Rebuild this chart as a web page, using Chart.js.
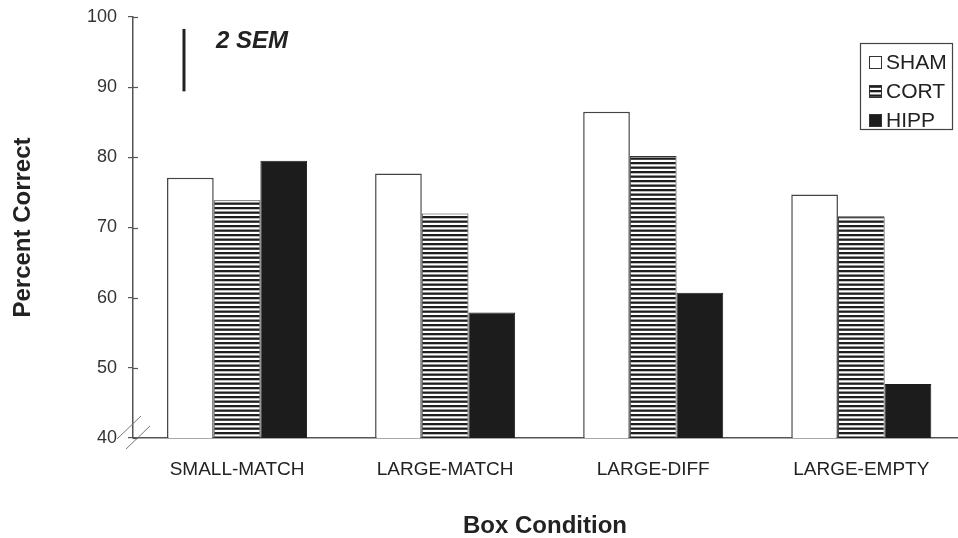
<!DOCTYPE html>
<html>
<head>
<meta charset="utf-8">
<script src="https://cdn.jsdelivr.net/npm/chart.js@4/dist/chart.umd.min.js"></script>
<style>
  body { margin: 0; background: #fff; }
  canvas { display: block; }
</style>
</head>
<body>
<canvas id="chart" width="958" height="538"></canvas>
<script>
const categories = ["SMALL-MATCH", "LARGE-MATCH", "LARGE-DIFF", "LARGE-EMPTY"];
const seriesNames = ["SHAM", "CORT", "HIPP"];
const shamValues = [77.1, 77.7, 86.5, 74.7];
const cortValues = [73.9, 72.0, 80.2, 71.6];
const hippValues = [79.5, 57.9, 60.7, 47.7];
const yTicks = [40, 50, 60, 70, 80, 90, 100];
// the "2 SEM" scale bar, in data units
const semBar = { x: -0.255, top: 98.3, bottom: 89.4 };

const FONT = "'Liberation Sans', Arial, sans-serif";

// horizontal stripe fill for CORT
function stripes() {
  const c = document.createElement("canvas");
  c.width = 8; c.height = 9;
  const g = c.getContext("2d");
  g.fillStyle = "#fff";
  g.fillRect(0, 0, 8, 9);
  g.fillStyle = "#1e1e1e";
  g.fillRect(0, 0, 8, 2.3);
  g.fillRect(0, 4.5, 8, 2.3);
  return document.getElementById("chart").getContext("2d").createPattern(c, "repeat");
}
const cortFill = stripes();

const toPoints = vals => vals.map((v, i) => ({ x: i, y: v }));

const extras = {
  id: "extras",
  afterDraw(chart) {
    const { ctx, chartArea } = chart;
    const xs = chart.scales.x, ys = chart.scales.y;
    const x0 = chartArea.left, y0 = chartArea.bottom;
    ctx.save();

    // inner half of the y tick marks
    ctx.strokeStyle = "#555";
    ctx.lineWidth = 1.2;
    yTicks.forEach(t => {
      const y = Math.round(ys.getPixelForValue(t)) + 0.5;
      ctx.beginPath();
      ctx.moveTo(x0, y);
      ctx.lineTo(x0 + 5, y);
      ctx.stroke();
    });

    // axis break marks
    ctx.strokeStyle = "#777";
    ctx.lineWidth = 1;
    ctx.beginPath();
    ctx.moveTo(x0 - 16, y0 + 1); ctx.lineTo(x0 + 8, y0 - 22);
    ctx.moveTo(x0 - 7, y0 + 11); ctx.lineTo(x0 + 17, y0 - 12);
    ctx.stroke();

    // 2 SEM bar
    const sx = xs.getPixelForValue(semBar.x);
    ctx.strokeStyle = "#222";
    ctx.lineWidth = 3;
    ctx.beginPath();
    ctx.moveTo(sx, ys.getPixelForValue(semBar.top));
    ctx.lineTo(sx, ys.getPixelForValue(semBar.bottom));
    ctx.stroke();
    ctx.fillStyle = "#222";
    ctx.font = "italic bold 24px " + FONT;
    ctx.textBaseline = "middle";
    ctx.textAlign = "left";
    ctx.fillText("2 SEM", sx + 32, ys.getPixelForValue(semBar.top) + 12);

    // legend box
    const bx = chartArea.right - 97, by = chartArea.top + 26, bw = 92, bh = 86;
    ctx.strokeStyle = "#444";
    ctx.lineWidth = 1.2;
    ctx.strokeRect(bx + 0.5, by + 0.5, bw, bh);
    ctx.font = "21px " + FONT;
    chart.data.datasets.forEach((ds, i) => {
      const cy = by + 19 + i * 29;
      ctx.fillStyle = ds.backgroundColor;
      ctx.fillRect(bx + 9, cy - 6, 13, 13);
      ctx.strokeStyle = "#333";
      ctx.lineWidth = 1;
      ctx.strokeRect(bx + 9.5, cy - 5.5, 12, 12);
      ctx.fillStyle = "#222";
      ctx.fillText(ds.label, bx + 26, cy + 1);
    });

    ctx.restore();
  }
};

new Chart(document.getElementById("chart"), {
  type: "bar",
  data: {
    datasets: [
      { label: seriesNames[0], data: toPoints(shamValues), backgroundColor: "#ffffff", borderColor: "#444", borderWidth: 1.5 },
      { label: seriesNames[1], data: toPoints(cortValues), backgroundColor: cortFill, borderColor: "#333", borderWidth: 1 },
      { label: seriesNames[2], data: toPoints(hippValues), backgroundColor: "#1c1c1c", borderColor: "#1c1c1c", borderWidth: 1 }
    ]
  },
  options: {
    responsive: false,
    animation: false,
    devicePixelRatio: 1,
    layout: { padding: { top: 17, right: 1, left: 0, bottom: 0 } },
    datasets: { bar: { barPercentage: 1, categoryPercentage: 0.673 } },
    plugins: { legend: { display: false }, tooltip: { enabled: false } },
    scales: {
      x: {
        type: "linear",
        offset: false,
        min: -0.5,
        max: 3.46,
        afterBuildTicks: s => { s.ticks = categories.map((_, i) => ({ value: i })); },
        afterFit: s => { s.height = 100; s.paddingLeft = 0; s.paddingRight = 0; },
        grid: { display: false, drawTicks: false, offset: false },
        border: { display: true, color: "#555", width: 1.5 },
        ticks: {
          callback: v => categories[v],
          font: { family: FONT, size: 19 },
          color: "#222",
          padding: 20,
          maxRotation: 0,
          autoSkip: false
        },
        title: {
          display: true,
          text: "Box Condition",
          font: { family: FONT, size: 24, weight: "bold", lineHeight: 1 },
          color: "#222",
          padding: { top: 0, bottom: 0 }
        }
      },
      y: {
        min: 40,
        max: 100,
        afterBuildTicks: s => { s.ticks = yTicks.map(v => ({ value: v })); },
        afterFit: s => { s.width = 133; s.paddingTop = 0; s.paddingBottom = 0; },
        grid: { display: true, drawOnChartArea: false, drawTicks: true, tickLength: 5, color: "#555", lineWidth: 1.2 },
        border: { display: true, color: "#555", width: 1.5 },
        ticks: {
          font: { family: FONT, size: 18 },
          color: "#333",
          padding: 11
        },
        title: {
          display: true,
          text: "Percent Correct",
          font: { family: FONT, size: 24, weight: "bold", lineHeight: 1 },
          color: "#222",
          padding: { top: 11, bottom: 0 }
        }
      }
    }
  },
  plugins: [extras]
});
</script>
</body>
</html>
